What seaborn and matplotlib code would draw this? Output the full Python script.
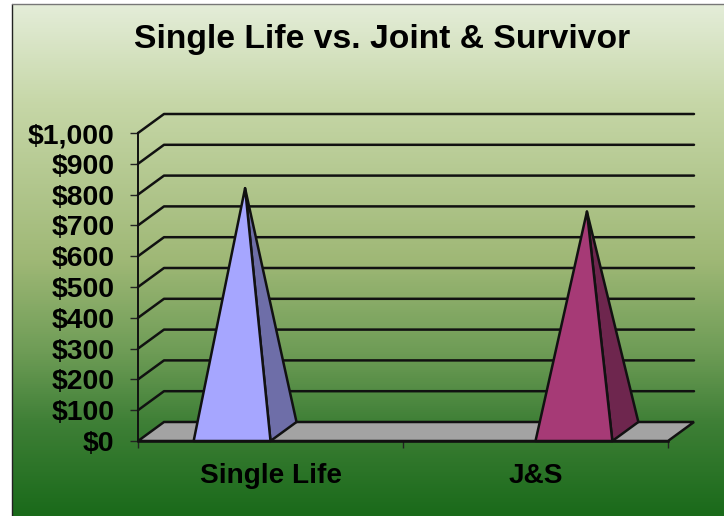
import numpy as np
import pandas as pd
import matplotlib
matplotlib.use('Agg')
import matplotlib.pyplot as plt
from matplotlib.colors import LinearSegmentedColormap, to_rgb
from matplotlib.patches import Polygon, Rectangle
import seaborn as sns

categories = ['Single Life', 'Single Life', 'J&S', 'J&S']
series = ['Single Life', 'J&S', 'Single Life', 'J&S']
values = [790, np.nan, np.nan, 714]
colors = ['#A6A6FF', '#A63A76']
yticks = list(range(0, 1001, 100))
title = 'Single Life vs. Joint & Survivor'

W, H = 724, 516
sns.set_style('white')
plt.rcParams['font.family'] = ['Liberation Sans', 'DejaVu Sans']
plt.rcParams['font.weight'] = 'bold'

fig = plt.figure(figsize=(W / 100, H / 100), dpi=100, facecolor='white')

# background panel with the vertical green gradient
bg = fig.add_axes([0, 0, 1, 1], zorder=0)
bg.set_xlim(0, W)
bg.set_ylim(H, 0)
bg.axis('off')
cmap = LinearSegmentedColormap.from_list('bg', [(0, '#E4EDD8'), (0.2, '#C5D6A6'), (0.5, '#9FB876'),
                                               (0.68, '#6E9C56'), (0.82, '#3E7F36'), (1, '#1A6A1A')])
bg.imshow(np.linspace(0, 1, 256).reshape(-1, 1), cmap=cmap, aspect='auto', extent=(12, W, H, 4))
bg.set_xlim(0, W)
bg.set_ylim(H, 0)
bg.plot([11.5, 11.5], [4, H], color='#222222', lw=1.0)
bg.plot([11.5, W], [4, 4], color='#777777', lw=1.0)

# axes = front plane of the 3D chart
ax = fig.add_axes([138 / W, 1 - 441 / H, 530 / W, 308 / H], zorder=1)
ax.patch.set_alpha(0)
df = pd.DataFrame({'category': categories, 'series': series, 'value': values})
sns.barplot(data=df, x='category', y='value', hue='series', hue_order=['Single Life', 'J&S'],
            order=['Single Life', 'J&S'], palette=colors, width=0.58, saturation=1, legend=False, ax=ax)
ax.set_xlim(-0.5, 1.5)
ax.set_ylim(0, 1000)
ax.set_xlabel('')
ax.set_ylabel('')

# depth of the fake 3D box, in data units
dx = 26 / 530 * 2
dy = 19 / 308 * 1000
x0, x1 = -0.5, 1.5
line = dict(color='#111111', lw=1.8, clip_on=False, solid_capstyle='round', solid_joinstyle='round')

ax.add_patch(Polygon([(x0, 0), (x1, 0), (x1 + dx, dy), (x0 + dx, dy)], closed=True,
                     facecolor='#A3A3A3', edgecolor='#111111', lw=1.8, clip_on=False, zorder=2))
for v in yticks[1:]:
    ax.plot([x0, x0 + dx, x1 + dx], [v, v + dy, v + dy], zorder=2, **line)

# turn each bar into a pyramid
for bar in list(ax.patches):
    if not isinstance(bar, Rectangle) or not bar.get_height() > 0:
        continue
    left, w, h = bar.get_x(), bar.get_width(), bar.get_height()
    rgb = np.array(to_rgb(bar.get_facecolor()))
    bar.set_visible(False)
    apex = (left + w / 2 + dx / 2, h + dy / 2)
    ax.add_patch(Polygon([(left + w, 0), (left + w + dx, dy), apex], closed=True, facecolor=rgb * 0.66,
                         edgecolor='#111111', lw=1.8, clip_on=False, zorder=3, joinstyle='round'))
    ax.add_patch(Polygon([(left, 0), (left + w, 0), apex], closed=True, facecolor=rgb,
                         edgecolor='#111111', lw=1.8, clip_on=False, zorder=4, joinstyle='round'))

sns.despine(ax=ax, top=True, right=True)
ax.spines['left'].set_color('#111111')
ax.spines['left'].set_linewidth(1.4)
ax.spines['bottom'].set_color('#111111')
ax.spines['bottom'].set_linewidth(1.8)
ax.spines['bottom'].set_zorder(5)

ax.set_yticks(yticks)
ax.set_yticklabels([f'${v:,}' for v in yticks], fontsize=20.4, fontweight='bold', color='black')
ax.tick_params(axis='y', left=True, length=6, width=1.0, color='#222222', pad=11)
ax.set_xticks([0, 1])
ax.set_xticklabels(['Single Life', 'J&S'], fontsize=20.2, fontweight='bold', color='black')
ax.set_xticks([-0.5, 0.5, 1.5], minor=True)
ax.tick_params(axis='x', which='major', bottom=False, pad=12)
ax.tick_params(axis='x', which='minor', bottom=True, length=5, width=1.0, color='#222222')

fig.text(382 / W, 1 - 39.5 / H, title, ha='center', va='center', fontsize=24.2, fontweight='bold', color='black')

fig.savefig('out.png', dpi=100)
